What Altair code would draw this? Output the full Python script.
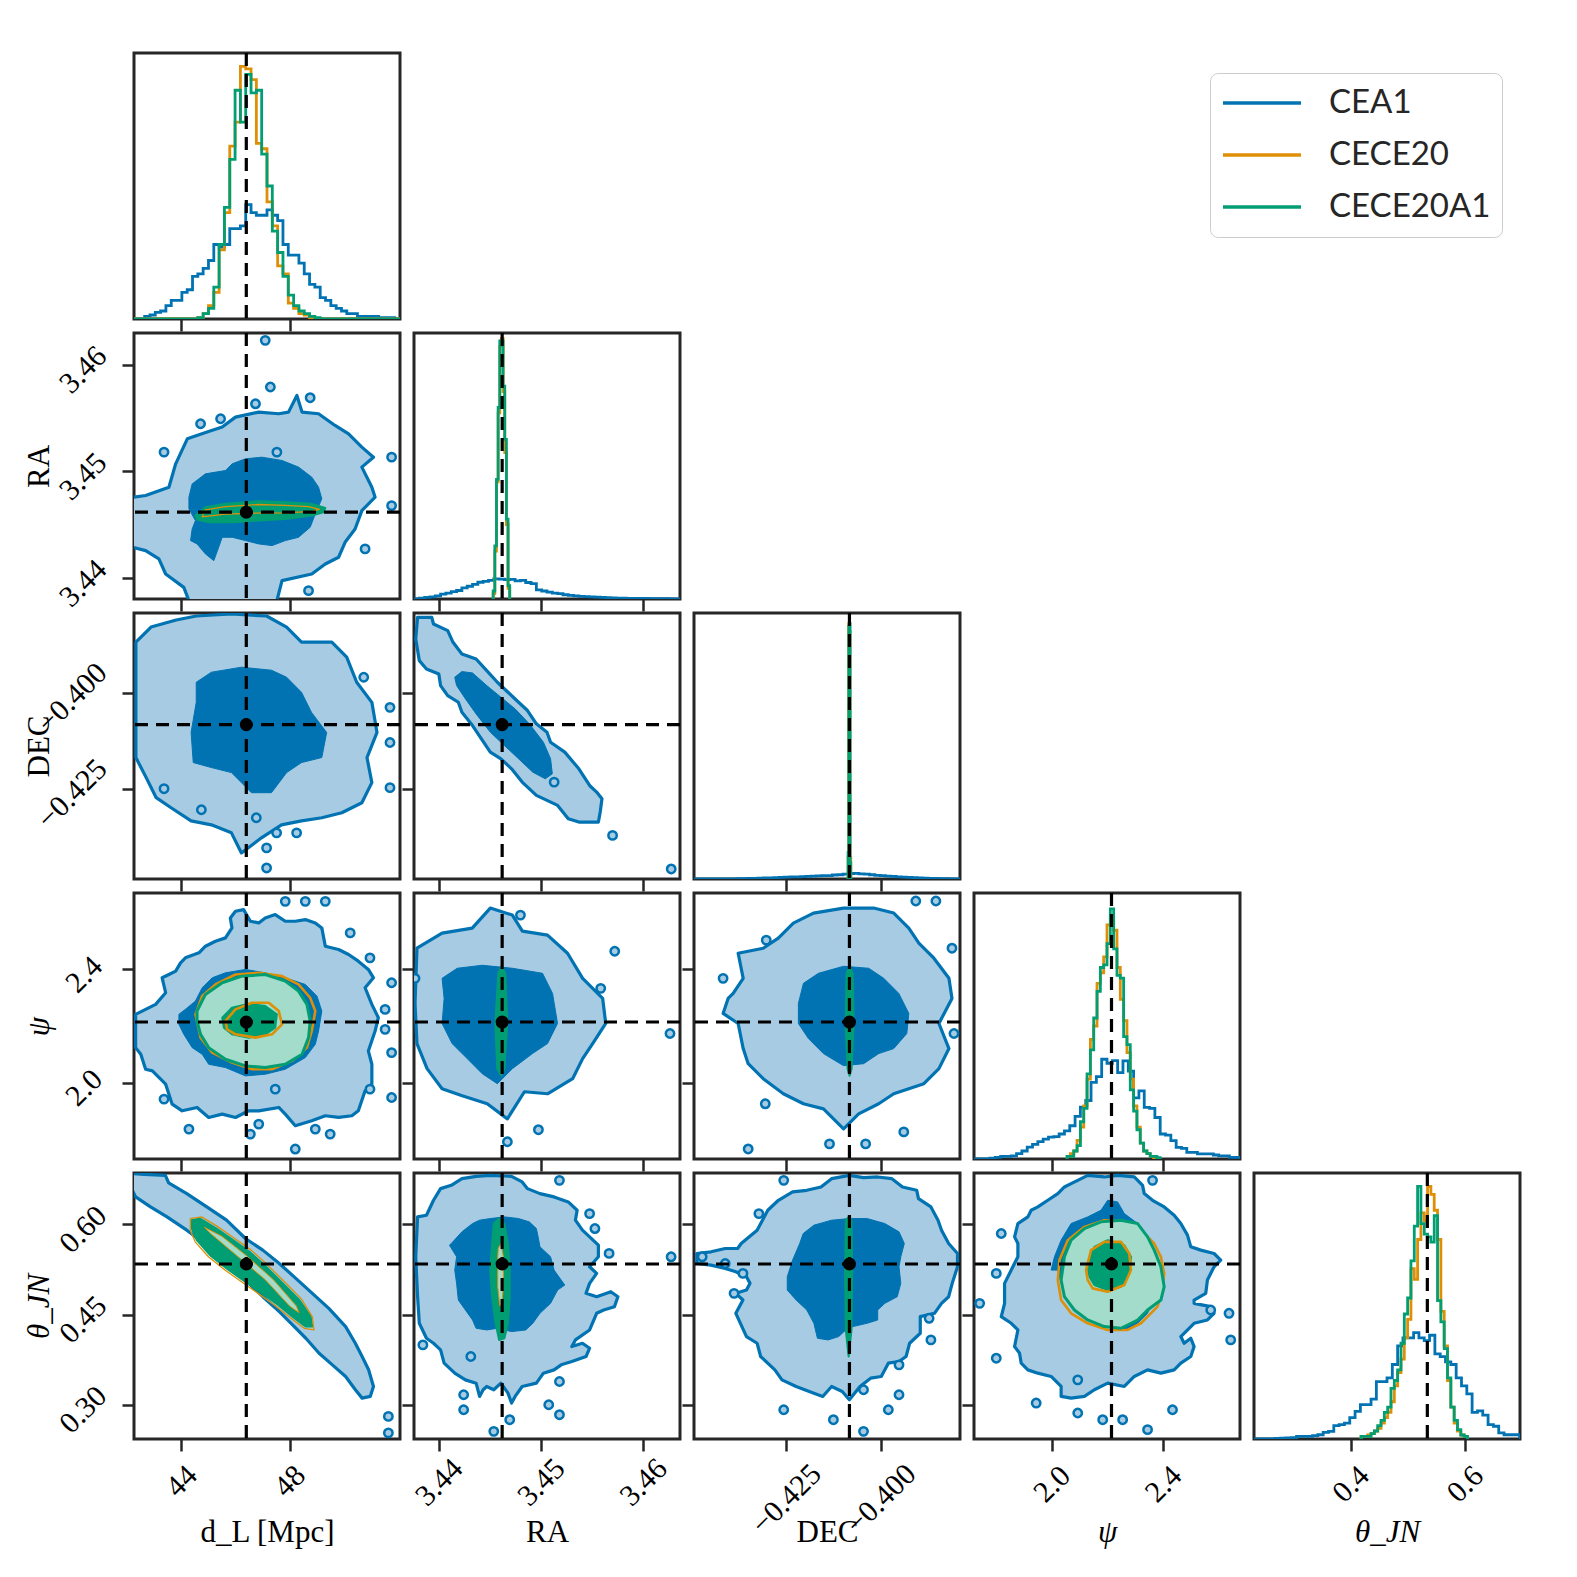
import altair as alt
import pandas as pd

# ---------------- colours / styling ----------------
BLUE = "#0173b2"
ORANGE = "#de8f05"
GREEN = "#029e73"
LIGHT_BLUE = "#a6cbe3"
LIGHT_GREEN = "#a3dccb"
FRAME = "#262626"
SERIF = "Liberation Serif"
PANEL = 266
GAP = 14

SERIES = ["CEA1", "CECE20", "CECE20A1"]
SERIES_COLORS = [BLUE, ORANGE, GREEN]

PARAMS = ["dL", "RA", "DEC", "psi", "theta"]
TITLES = {"dL": "d_L [Mpc]", "RA": "RA", "DEC": "DEC", "psi": "ψ", "theta": "θ_JN"}
TITLE_STYLE = {"dL": "normal", "RA": "normal", "DEC": "normal", "psi": "italic", "theta": "italic"}
TRUTH = {"dL": 46.4, "RA": 3.44618, "DEC": -0.4083, "psi": 2.214, "theta": 0.534}

COL_DOMAIN = {"dL": [42.25, 52.08], "RA": [3.43755, 3.46359], "DEC": [-0.44938, -0.37908],
              "psi": [1.7203, 2.6754], "theta": [0.2308, 0.6961]}
ROW_DOMAIN = {"RA": [3.43805, 3.46296], "DEC": [-0.44844, -0.37928],
              "psi": [1.7294, 2.6704], "theta": [0.2429, 0.6854]}
COL_TICKS = {"dL": [44, 48], "RA": [3.44, 3.45, 3.46], "DEC": [-0.425, -0.400],
             "psi": [2.0, 2.4], "theta": [0.4, 0.6]}
ROW_TICKS = {"RA": [3.44, 3.45, 3.46], "DEC": [-0.425, -0.400], "psi": [2.0, 2.4],
             "theta": [0.30, 0.45, 0.60]}
COL_FMT = {"dL": "d", "RA": ".2f", "DEC": ".3f", "psi": ".1f", "theta": ".1f"}
ROW_FMT = {"RA": ".2f", "DEC": ".3f", "psi": ".1f", "theta": ".2f"}
COL_PAD = {"dL": 30, "RA": 31, "DEC": 48, "psi": 33, "theta": 33}
ROW_PAD = {"RA": 39, "DEC": 50, "psi": 38, "theta": 39}

# ---------------- 1-D histograms (percent of panel height) ----------------
H_DL_CEA1 = [0, 0, 1, 1.5, 2.5, 3, 5, 7, 7, 10, 11, 16, 17, 19, 22, 28, 27, 28, 34, 34,
             35, 43, 40, 39, 39, 41, 39, 37, 28, 24, 24, 21, 17, 13, 12, 8, 7, 5, 4, 3,
             2, 2, 1, 1, 1, 1, 0.5, 0.5, 0.5, 0]
H_DL_CECE20 = [0, 0, 0, 0, 0, 0, 0, 0, 0, 0, 0, 0, 0.5, 2, 5, 10, 26, 40, 65, 74,
               95, 94, 90, 66, 64, 44, 35, 20, 17, 6, 4, 2, 1.5, 0.5, 0, 0, 0, 0, 0, 0,
               0, 0, 0, 0, 0, 0, 0, 0, 0, 0]
H_DL_CECE20A1 = [0, 0, 0, 0, 0, 0, 0, 0, 0, 0, 0, 0, 0.5, 2, 4, 12, 28, 42, 60, 86,
                 74, 92, 85, 86, 62, 50, 33, 25, 16, 9, 5, 3, 2, 1, 0.5, 0, 0, 0, 0, 0,
                 0, 0, 0, 0, 0, 0, 0, 0, 0, 0]
H_RA_CEA1 = [0, 0.3, 0.6, 0.8, 1.2, 1.8, 2.2, 2.8, 3.2, 4.2, 4.8, 5.5, 6.3, 6.6, 7.0, 7.6,
             7.5, 7.3, 7.4, 6.8, 7.0, 6.2, 5.8, 3.4, 3.0, 2.6, 2.2, 2.0, 1.6, 1.4, 1.2, 1.0,
             0.9, 0.8, 0.7, 0.6, 0.5, 0.4, 0.3, 0.3, 0.2, 0.2, 0.2, 0.2, 0.1, 0.1, 0.1, 0.1, 0, 0]
H_RA_CECE20 = [2, 18, 44, 70, 95, 98, 78, 55, 28, 4]
H_RA_CECE20A1 = [3, 20, 45, 72, 97, 97, 80, 60, 30, 5]
H_DEC_CEA1 = [0, 0, 0, 0, 0, 0, 0, 0, 0.1, 0.1, 0.2, 0.2, 0.3, 0.4, 0.4, 0.5, 0.6, 0.7, 0.8, 0.8,
              0.9, 1.0, 1.1, 1.2, 1.3, 1.3, 1.5, 1.6, 1.8, 2.0, 2.1, 1.9, 1.8, 1.6, 1.4, 1.3,
              1.1, 1.0, 0.8, 0.7, 0.6, 0.5, 0.4, 0.3, 0.2, 0.2, 0.1, 0.1, 0, 0]
H_DEC_CECE20 = [8, 96, 93, 8]
H_DEC_CECE20A1 = [10, 95, 96, 6]
H_PSI_CEA1 = [0, 0, 0, 0.3, 0.6, 1.0, 1.0, 1.2, 2, 3, 4.5, 5.5, 6.5, 7.5, 8.2, 8.4, 9.4, 10.6,
              12.5, 16, 19.5, 22, 28.8, 31, 37.5, 36, 37, 32.5, 36.9, 33, 23, 25.6, 19.4, 19,
              15.6, 9.4, 9, 6.9, 4.4, 4, 2.5, 2.5, 1.9, 1.9, 1.9, 1.5, 1.2, 1.2, 0.6, 0.6]
H_PSI_CECE20 = [1, 2, 3, 7, 12, 20, 30, 45, 50, 66, 70, 76, 88, 90, 86, 72, 60, 52, 40, 30,
                20, 12, 6, 3, 2, 1, 0.5, 0]
H_PSI_CECE20A1 = [1, 1, 3, 5, 14, 19, 32, 41, 53, 63, 72, 73, 81, 94, 79, 69, 68, 46, 43, 26,
                  18, 11, 6, 3, 2, 1, 1, 0.5]
H_TH_CEA1 = [0, 0, 0, 0, 0.2, 0.3, 0.4, 0.5, 1, 1, 1, 1.3, 1.6, 2.5, 2.9, 5, 5.4, 6, 8, 10.4,
             12.9, 12.9, 15, 21.6, 21.6, 23, 28, 35, 38, 38, 40, 38, 37, 39, 32, 31, 29, 28,
             23, 20, 17, 10, 10.6, 9, 5.4, 4.8, 2.3, 1.6, 1.6, 1.6]
H_TH_CECE20 = [1, 1, 1.5, 2, 3, 4, 6, 8, 10, 14, 20, 25, 30, 38, 45, 64, 60, 75, 85, 82,
               95, 92, 86, 75, 48, 35, 22, 12, 6, 3, 1.5, 1]
H_TH_CECE20A1 = [1, 1, 1, 2, 3, 5, 7, 10, 12, 19, 22, 26, 36, 47, 53, 67, 80, 95, 81, 77,
                 76, 74, 84, 52, 44, 34, 23, 12, 7, 3.5, 1.5, 1]

# (series, low edge, high edge, bin heights)
HISTS = {
    "dL": [("CEA1", 42.25, 52.08, H_DL_CEA1), ("CECE20", 42.25, 52.08, H_DL_CECE20),
           ("CECE20A1", 42.25, 52.08, H_DL_CECE20A1)],
    "RA": [("CEA1", 3.43755, 3.46359, H_RA_CEA1), ("CECE20", 3.44530, 3.44692, H_RA_CECE20),
           ("CECE20A1", 3.44530, 3.44692, H_RA_CECE20A1)],
    "DEC": [("CEA1", -0.44938, -0.37908, H_DEC_CEA1), ("CECE20", -0.40865, -0.40795, H_DEC_CECE20),
            ("CECE20A1", -0.40865, -0.40795, H_DEC_CECE20A1)],
    "psi": [("CEA1", 1.7203, 2.6754, H_PSI_CEA1), ("CECE20", 2.0546, 2.3889, H_PSI_CECE20),
            ("CECE20A1", 2.0546, 2.3889, H_PSI_CECE20A1)],
    "theta": [("CEA1", 0.2308, 0.6961, H_TH_CEA1), ("CECE20", 0.4181, 0.6042, H_TH_CECE20),
              ("CECE20A1", 0.4181, 0.6042, H_TH_CECE20A1)],
}

# ---------------- 2-D credible contours (vertices in data units) ----------------
RA_DL_OUTER = [(42.19, 3.44758), (42.68, 3.44774), (43.54, 3.44852), (43.79, 3.45071), (44.22, 3.45305),
               (44.95, 3.45368), (45.51, 3.45415), (46.00, 3.45508), (46.86, 3.45555), (47.60, 3.45540),
               (47.96, 3.45555), (48.27, 3.45711), (48.46, 3.45555), (49.07, 3.45540), (49.68, 3.45430),
               (50.18, 3.45352), (50.67, 3.45227), (51.10, 3.45133), (50.67, 3.45040), (51.04, 3.44852),
               (51.16, 3.44758), (50.67, 3.44633), (50.42, 3.44461), (50.05, 3.44336), (49.81, 3.44196),
               (49.32, 3.44133), (48.82, 3.44039), (47.72, 3.43977), (47.53, 3.43789), (44.28, 3.43789),
               (44.09, 3.43914), (43.42, 3.44039), (43.17, 3.44180), (42.68, 3.44258), (42.19, 3.44289)]
RA_DL_INNER = [(44.28, 3.44758), (44.40, 3.44883), (44.89, 3.44977), (45.63, 3.45008), (45.88, 3.45071),
               (46.37, 3.45118), (46.98, 3.45133), (47.72, 3.45102), (48.33, 3.45040), (48.82, 3.44946),
               (49.07, 3.44852), (49.19, 3.44743), (48.95, 3.44602), (48.76, 3.44477), (48.33, 3.44383),
               (47.84, 3.44352), (47.35, 3.44305), (46.86, 3.44321), (46.37, 3.44352), (45.88, 3.44383),
               (45.51, 3.44383), (45.20, 3.44164), (44.89, 3.44227), (44.58, 3.44321), (44.34, 3.44352),
               (44.40, 3.44461), (44.52, 3.44539), (44.28, 3.44649)]
RA_DL_GREEN = [(44.52, 3.44586), (44.89, 3.44664), (45.63, 3.44696), (46.86, 3.44721), (47.84, 3.44711),
               (48.82, 3.44696), (49.32, 3.44658), (49.25, 3.44618), (48.82, 3.44586), (47.84, 3.44555),
               (46.86, 3.44539), (45.88, 3.44524), (45.02, 3.44524), (44.58, 3.44549)]
RA_DL_ORANGE = [(44.77, 3.44575), (45.63, 3.44600), (46.86, 3.44610), (47.84, 3.44612), (48.82, 3.44625),
                (49.10, 3.44645), (48.70, 3.44670), (47.84, 3.44682), (46.86, 3.44690), (45.63, 3.44670),
                (44.89, 3.44640)]

DEC_DL_OUTER = [(42.32, -0.38685), (42.88, -0.38293), (43.81, -0.38111), (44.55, -0.38006), (45.85, -0.37954),
                (47.15, -0.38006), (47.89, -0.38293), (48.44, -0.38685), (49.56, -0.38685), (50.11, -0.39076),
                (50.48, -0.39729), (51.04, -0.40251), (51.23, -0.41034), (50.86, -0.41686), (51.04, -0.42339),
                (50.67, -0.42861), (49.93, -0.43122), (49.19, -0.43252), (48.44, -0.43331), (47.70, -0.43435),
                (46.96, -0.43774), (46.22, -0.44166), (45.85, -0.43644), (45.11, -0.43435), (44.36, -0.43331),
                (43.62, -0.42991), (43.07, -0.42730), (42.70, -0.42208), (42.32, -0.41686)]
DEC_DL_INNER = [(44.55, -0.39729), (45.11, -0.39468), (46.22, -0.39337), (47.33, -0.39416), (47.89, -0.39598),
                (48.44, -0.39990), (48.81, -0.40512), (49.37, -0.41034), (49.19, -0.41686), (48.44, -0.41817),
                (47.89, -0.42078), (47.33, -0.42600), (46.59, -0.42600), (45.85, -0.42078), (45.11, -0.41947),
                (44.44, -0.41817), (44.36, -0.41034), (44.55, -0.40251)]

DEC_RA_OUTER = [(3.43790, -0.38041), (3.43929, -0.38041), (3.43946, -0.38214), (3.44085, -0.38387),
                (3.44137, -0.38690), (3.44224, -0.38993), (3.44363, -0.39123), (3.44467, -0.39426),
                (3.44571, -0.39728), (3.44675, -0.39988), (3.44779, -0.40248), (3.44866, -0.40464),
                (3.44953, -0.40810), (3.45057, -0.41027), (3.45092, -0.41287), (3.45231, -0.41546),
                (3.45369, -0.41979), (3.45474, -0.42412), (3.45543, -0.42585), (3.45595, -0.42758),
                (3.45578, -0.43104), (3.45560, -0.43364), (3.45369, -0.43364), (3.45265, -0.43277),
                (3.45161, -0.42931), (3.45057, -0.42801), (3.44953, -0.42671), (3.44814, -0.42325),
                (3.44710, -0.41979), (3.44606, -0.41719), (3.44502, -0.41546), (3.44415, -0.41200),
                (3.44328, -0.40854), (3.44224, -0.40507), (3.44189, -0.40248), (3.44085, -0.40075),
                (3.44015, -0.39815), (3.43998, -0.39512), (3.43877, -0.39382), (3.43807, -0.39166),
                (3.43772, -0.38603)]
DEC_RA_INNER = [(3.44154, -0.39599), (3.44224, -0.39451), (3.44328, -0.39486), (3.44467, -0.39815),
                (3.44606, -0.40118), (3.44745, -0.40421), (3.44884, -0.40810), (3.45022, -0.41287),
                (3.45092, -0.41719), (3.45109, -0.42109), (3.45040, -0.42239), (3.44918, -0.42066),
                (3.44779, -0.41719), (3.44640, -0.41373), (3.44502, -0.41027), (3.44363, -0.40551),
                (3.44259, -0.40161), (3.44172, -0.39815)]

PSI_DL_OUTER = [(42.31, 2.2411), (42.68, 2.2588), (43.05, 2.2763), (43.42, 2.3175), (43.29, 2.3704),
                (43.54, 2.3822), (43.79, 2.3940), (43.97, 2.4234), (44.15, 2.4410), (44.65, 2.4587),
                (44.89, 2.4822), (45.26, 2.4998), (45.63, 2.5116), (45.87, 2.5469), (45.81, 2.5822),
                (46.00, 2.6057), (46.30, 2.6116), (46.55, 2.5704), (46.86, 2.5645), (47.10, 2.5822),
                (47.47, 2.5940), (47.84, 2.5704), (48.21, 2.5704), (48.58, 2.5763), (48.95, 2.5645),
                (49.19, 2.5469), (49.32, 2.4822), (49.81, 2.4704), (50.18, 2.4528), (50.54, 2.4293),
                (50.91, 2.3999), (51.10, 2.3704), (50.79, 2.3352), (51.04, 2.2763), (51.28, 2.2293),
                (51.16, 2.1822), (50.91, 2.1117), (51.04, 2.0646), (51.04, 1.9940), (50.79, 1.9705),
                (50.54, 1.8999), (50.30, 1.8823), (49.81, 1.8764), (49.32, 1.8823), (48.82, 1.8646),
                (48.21, 1.8470), (47.84, 1.8882), (47.60, 1.9117), (46.86, 1.8999), (46.49, 1.8999),
                (46.00, 1.8764), (45.51, 1.8882), (45.01, 1.8764), (44.58, 1.9117), (44.03, 1.8999),
                (43.66, 1.9234), (43.42, 1.9940), (42.93, 2.0411), (42.68, 2.0470), (42.50, 2.0999),
                (42.31, 2.1234)]
PSI_DL_INNER = [(43.91, 2.2411), (44.15, 2.2588), (44.52, 2.2881), (44.77, 2.3352), (45.14, 2.3704),
                (45.63, 2.3881), (46.37, 2.3999), (47.10, 2.3881), (47.84, 2.3704), (48.58, 2.3469),
                (49.01, 2.3058), (49.19, 2.2528), (49.07, 2.1822), (48.95, 2.1352), (48.58, 2.0881),
                (47.84, 2.0470), (47.10, 2.0293), (46.37, 2.0234), (45.63, 2.0529), (45.01, 2.0646),
                (44.77, 2.0999), (44.40, 2.1234), (44.09, 2.1705), (43.91, 2.2058)]
PSI_DL_GREEN_OUT = [(44.58, 2.2528), (44.89, 2.3116), (45.51, 2.3528), (46.24, 2.3763), (47.10, 2.3822),
                    (47.84, 2.3587), (48.33, 2.3234), (48.64, 2.2763), (48.76, 2.2175), (48.70, 2.1587),
                    (48.46, 2.0999), (47.84, 2.0646), (47.10, 2.0529), (46.37, 2.0587), (45.63, 2.0822),
                    (45.01, 2.1234), (44.71, 2.1705), (44.58, 2.2175)]
PSI_DL_GREEN_IN = [(45.51, 2.2293), (45.87, 2.2646), (46.49, 2.2787), (47.10, 2.2705), (47.53, 2.2411),
                   (47.47, 2.1940), (47.10, 2.1705), (46.49, 2.1587), (45.87, 2.1705), (45.57, 2.1940)]
PSI_DL_ORANGE_OUT = [(44.52, 2.2411), (44.77, 2.3058), (45.26, 2.3469), (46.00, 2.3822), (46.86, 2.3881),
                     (47.72, 2.3763), (48.33, 2.3469), (48.76, 2.2999), (48.95, 2.2528), (48.82, 2.1822),
                     (48.64, 2.1234), (48.09, 2.0764), (47.35, 2.0470), (46.61, 2.0470), (45.87, 2.0705),
                     (45.14, 2.1058), (44.71, 2.1587)]
PSI_DL_ORANGE_IN = [(45.63, 2.2175), (46.00, 2.2588), (46.61, 2.2822), (47.23, 2.2822), (47.60, 2.2528),
                    (47.72, 2.2058), (47.35, 2.1705), (46.74, 2.1587), (46.00, 2.1705), (45.69, 2.1881)]

PSI_RA_OUTER = [(3.43784, 2.4751), (3.44030, 2.5284), (3.44325, 2.5461), (3.44502, 2.6171), (3.44718, 2.5923),
                (3.44816, 2.5355), (3.45062, 2.5213), (3.45258, 2.4573), (3.45406, 2.3686), (3.45602, 2.2975),
                (3.45632, 2.2088), (3.45504, 2.1377), (3.45406, 2.0845), (3.45308, 2.0135), (3.45062, 1.9602),
                (3.44836, 1.9673), (3.44669, 1.8714), (3.44472, 1.9247), (3.44227, 1.9531), (3.44030, 1.9780),
                (3.43883, 2.0490), (3.43784, 2.1377), (3.43765, 2.2798)]
PSI_RA_INNER = [(3.44030, 2.3686), (3.44178, 2.4041), (3.44423, 2.4147), (3.44718, 2.4041), (3.45013, 2.3863),
                (3.45111, 2.3153), (3.45160, 2.2088), (3.45062, 2.1377), (3.44914, 2.1022), (3.44718, 2.0490),
                (3.44571, 1.9957), (3.44423, 2.0312), (3.44276, 2.0845), (3.44128, 2.1377), (3.44030, 2.2088),
                (3.44050, 2.2975)]
PSI_RA_GREEN = [(3.44580, 2.3863), (3.44610, 2.4112), (3.44649, 2.3863), (3.44669, 2.2088), (3.44639, 2.0490),
                (3.44610, 2.0241), (3.44570, 2.0490), (3.44551, 2.2088)]

PSI_DEC_OUTER = [(-0.43903, 2.3153), (-0.43638, 2.3686), (-0.43771, 2.4573), (-0.43108, 2.4751),
                 (-0.42710, 2.5106), (-0.42312, 2.5639), (-0.41781, 2.5994), (-0.40985, 2.6171),
                 (-0.40190, 2.6171), (-0.39659, 2.5994), (-0.39261, 2.5461), (-0.38996, 2.4929),
                 (-0.38598, 2.4396), (-0.38200, 2.3686), (-0.38120, 2.2975), (-0.38465, 2.2088),
                 (-0.38200, 2.1200), (-0.38465, 2.0490), (-0.38863, 1.9957), (-0.39261, 1.9780),
                 (-0.39659, 1.9602), (-0.40057, 1.9247), (-0.40587, 1.8892), (-0.40985, 1.8359),
                 (-0.41516, 1.9069), (-0.42046, 1.9247), (-0.42577, 1.9602), (-0.43108, 2.0135),
                 (-0.43506, 2.0667), (-0.43638, 2.1200), (-0.43771, 2.2088), (-0.44169, 2.2443),
                 (-0.44036, 2.2975)]
PSI_DEC_INNER = [(-0.42179, 2.2798), (-0.42046, 2.3508), (-0.41649, 2.3863), (-0.40985, 2.4112),
                 (-0.40322, 2.4041), (-0.39924, 2.3686), (-0.39526, 2.3153), (-0.39261, 2.2443),
                 (-0.39314, 2.1733), (-0.39659, 2.1200), (-0.40057, 2.1022), (-0.40455, 2.0667),
                 (-0.40985, 2.0596), (-0.41516, 2.1022), (-0.41914, 2.1555), (-0.42179, 2.2088)]
PSI_DEC_GREEN = [(-0.40906, 2.3863), (-0.40826, 2.4112), (-0.40747, 2.3863), (-0.40720, 2.2088),
                 (-0.40773, 2.0490), (-0.40826, 2.0241), (-0.40879, 2.0490), (-0.40932, 2.2088)]

TH_DL_OUTER = [(42.62, 0.6832), (43.41, 0.6815), (43.53, 0.6688), (44.20, 0.6511), (44.94, 0.6290),
               (45.67, 0.6069), (46.37, 0.5764), (47.01, 0.5571), (47.62, 0.5349), (48.23, 0.5101),
               (48.84, 0.4852), (49.45, 0.4603), (50.07, 0.4299), (50.43, 0.4022), (50.68, 0.3801),
               (50.92, 0.3580), (51.10, 0.3303), (50.98, 0.3137), (50.68, 0.3109), (50.43, 0.3248),
               (50.07, 0.3469), (49.58, 0.3662), (49.09, 0.3856), (48.60, 0.4105), (48.11, 0.4326),
               (47.62, 0.4547), (47.01, 0.4796), (46.37, 0.5073), (45.67, 0.5405), (44.94, 0.5654),
               (44.20, 0.5903), (43.47, 0.6124), (42.86, 0.6290), (42.31, 0.6456), (42.19, 0.6566),
               (42.19, 0.6843)]
TH_DL_GREEN = [(44.39, 0.6069), (44.69, 0.6096), (45.30, 0.5930), (45.91, 0.5737), (46.52, 0.5543),
               (47.13, 0.5294), (47.75, 0.5018), (48.36, 0.4741), (48.78, 0.4465), (48.84, 0.4299),
               (48.60, 0.4299), (48.11, 0.4465), (47.50, 0.4686), (46.89, 0.4879), (46.28, 0.5073),
               (45.67, 0.5266), (45.06, 0.5488), (44.57, 0.5737), (44.39, 0.5930)]
TH_DL_LIGHT = [(44.85, 0.5950), (45.50, 0.5800), (46.40, 0.5480), (47.40, 0.5080), (48.25, 0.4640),
               (48.35, 0.4530), (48.00, 0.4640), (47.10, 0.5080), (46.10, 0.5460), (45.10, 0.5840)]
TH_DL_ORANGE = [(44.33, 0.6096), (44.75, 0.6124), (45.36, 0.5958), (45.97, 0.5764), (46.58, 0.5571),
                (47.19, 0.5322), (47.81, 0.5046), (48.42, 0.4769), (48.84, 0.4465), (48.90, 0.4243),
                (48.54, 0.4271), (48.05, 0.4437), (47.44, 0.4658), (46.83, 0.4852), (46.22, 0.5046),
                (45.61, 0.5239), (45.00, 0.5460), (44.51, 0.5709), (44.33, 0.5903)]

TH_RA_OUTER = [(3.43790, 0.6124), (3.43877, 0.6152), (3.43946, 0.6400), (3.44015, 0.6594), (3.44120, 0.6649),
               (3.44224, 0.6760), (3.44363, 0.6799), (3.44501, 0.6815), (3.44710, 0.6799), (3.44814, 0.6705),
               (3.44866, 0.6594), (3.44988, 0.6511), (3.45126, 0.6456), (3.45265, 0.6373), (3.45352, 0.6235),
               (3.45335, 0.6069), (3.45404, 0.5903), (3.45474, 0.5792), (3.45560, 0.5654), (3.45560, 0.5460),
               (3.45474, 0.5294), (3.45543, 0.5184), (3.45474, 0.5018), (3.45439, 0.4852), (3.45543, 0.4796),
               (3.45682, 0.4879), (3.45751, 0.4796), (3.45717, 0.4630), (3.45612, 0.4575), (3.45543, 0.4520),
               (3.45474, 0.4243), (3.45335, 0.4077), (3.45300, 0.3967), (3.45404, 0.4022), (3.45474, 0.3939),
               (3.45439, 0.3801), (3.45300, 0.3718), (3.45196, 0.3663), (3.45126, 0.3579), (3.45022, 0.3524),
               (3.44953, 0.3358), (3.44814, 0.3303), (3.44745, 0.3137), (3.44710, 0.3027), (3.44675, 0.3192),
               (3.44606, 0.3358), (3.44536, 0.3248), (3.44467, 0.3303), (3.44432, 0.3248), (3.44397, 0.3137),
               (3.44363, 0.3358), (3.44258, 0.3413), (3.44154, 0.3524), (3.44050, 0.3690), (3.44015, 0.3911),
               (3.43946, 0.4022), (3.43877, 0.4105), (3.43807, 0.4354), (3.43790, 0.4796), (3.43772, 0.5460)]
TH_RA_INNER = [(3.44120, 0.5681), (3.44224, 0.5875), (3.44328, 0.6013), (3.44397, 0.6069), (3.44501, 0.6096),
               (3.44640, 0.6124), (3.44779, 0.6096), (3.44883, 0.6041), (3.44953, 0.5930), (3.44970, 0.5792),
               (3.44988, 0.5626), (3.45092, 0.5460), (3.45126, 0.5239), (3.45196, 0.5073), (3.45231, 0.4990),
               (3.45161, 0.4907), (3.45092, 0.4686), (3.44988, 0.4520), (3.44918, 0.4354), (3.44849, 0.4243),
               (3.44710, 0.4216), (3.44571, 0.4271), (3.44467, 0.4243), (3.44363, 0.4271), (3.44328, 0.4409),
               (3.44258, 0.4575), (3.44189, 0.4741), (3.44172, 0.5018), (3.44154, 0.5239), (3.44172, 0.5460),
               (3.44102, 0.5654)]
TH_RA_GREEN = [(3.44536, 0.6013), (3.44588, 0.6096), (3.44640, 0.6013), (3.44675, 0.5681), (3.44692, 0.5239),
               (3.44692, 0.4796), (3.44675, 0.4354), (3.44640, 0.4105), (3.44588, 0.4077), (3.44554, 0.4354),
               (3.44519, 0.4796), (3.44501, 0.5239), (3.44519, 0.5681)]
TH_RA_LIGHT = [(3.44580, 0.5600), (3.44606, 0.5680), (3.44630, 0.5460), (3.44630, 0.4962), (3.44615, 0.4680),
               (3.44595, 0.4640), (3.44575, 0.4962), (3.44575, 0.5460)]

TH_DEC_OUTER = [(-0.44863, 0.5515), (-0.44488, 0.5543), (-0.44113, 0.5598), (-0.43785, 0.5598),
                (-0.43691, 0.5681), (-0.43270, 0.5903), (-0.42988, 0.6235), (-0.42707, 0.6400),
                (-0.42332, 0.6539), (-0.41957, 0.6566), (-0.41582, 0.6622), (-0.41301, 0.6760),
                (-0.40832, 0.6815), (-0.40458, 0.6777), (-0.40083, 0.6788), (-0.39708, 0.6760),
                (-0.39427, 0.6622), (-0.39052, 0.6566), (-0.39005, 0.6428), (-0.38677, 0.6290),
                (-0.38489, 0.6069), (-0.38396, 0.5903), (-0.38208, 0.5681), (-0.37974, 0.5515),
                (-0.37974, 0.5294), (-0.38114, 0.5018), (-0.38208, 0.4796), (-0.38396, 0.4686),
                (-0.38583, 0.4520), (-0.38958, 0.4465), (-0.38958, 0.4188), (-0.39239, 0.4022),
                (-0.39333, 0.3801), (-0.39520, 0.3718), (-0.39802, 0.3690), (-0.39989, 0.3469),
                (-0.40270, 0.3441), (-0.40551, 0.3303), (-0.40832, 0.3082), (-0.41020, 0.3220),
                (-0.41301, 0.3303), (-0.41536, 0.3137), (-0.41770, 0.3192), (-0.42239, 0.3303),
                (-0.42613, 0.3413), (-0.42801, 0.3579), (-0.43176, 0.3801), (-0.43270, 0.4022),
                (-0.43551, 0.4133), (-0.43832, 0.4520), (-0.43645, 0.4741), (-0.43832, 0.4852),
                (-0.43551, 0.4907), (-0.43457, 0.5018), (-0.43551, 0.5128), (-0.43832, 0.5211),
                (-0.44113, 0.5266), (-0.44488, 0.5322), (-0.44863, 0.5349)]
TH_DEC_INNER = [(-0.42473, 0.5128), (-0.42332, 0.5405), (-0.42145, 0.5681), (-0.42051, 0.5847),
                (-0.41770, 0.5986), (-0.41301, 0.6069), (-0.40832, 0.6096), (-0.40364, 0.6096),
                (-0.39895, 0.6013), (-0.39520, 0.5875), (-0.39380, 0.5681), (-0.39473, 0.5460),
                (-0.39520, 0.5294), (-0.39473, 0.5018), (-0.39567, 0.4796), (-0.39895, 0.4686),
                (-0.40083, 0.4575), (-0.40083, 0.4409), (-0.40364, 0.4354), (-0.40739, 0.4299),
                (-0.40926, 0.4243), (-0.41114, 0.4133), (-0.41395, 0.4077), (-0.41676, 0.4105),
                (-0.41770, 0.4354), (-0.41957, 0.4575), (-0.42239, 0.4741), (-0.42473, 0.4907)]
TH_DEC_GREEN = [(-0.40926, 0.6069), (-0.40851, 0.6124), (-0.40776, 0.6069), (-0.40757, 0.5184),
                (-0.40776, 0.4243), (-0.40851, 0.3801), (-0.40926, 0.4243), (-0.40945, 0.5184)]

TH_PSI_OUTER = [(2.0928, 0.6732), (2.1286, 0.6815), (2.1883, 0.6788), (2.2361, 0.6815), (2.2958, 0.6788),
                (2.3256, 0.6649), (2.3316, 0.6511), (2.3614, 0.6400), (2.4032, 0.6290), (2.4390, 0.6152),
                (2.4629, 0.6013), (2.4868, 0.5820), (2.4987, 0.5626), (2.5345, 0.5571), (2.5823, 0.5515),
                (2.6062, 0.5405), (2.5823, 0.5294), (2.5584, 0.5073), (2.5524, 0.4852), (2.5106, 0.4741),
                (2.5106, 0.4686), (2.5703, 0.4630), (2.5823, 0.4520), (2.5584, 0.4409), (2.5106, 0.4354),
                (2.4629, 0.4133), (2.4748, 0.4022), (2.4987, 0.4105), (2.5106, 0.3967), (2.4987, 0.3801),
                (2.4629, 0.3690), (2.4390, 0.3579), (2.3913, 0.3524), (2.3435, 0.3579), (2.2958, 0.3469),
                (2.2600, 0.3303), (2.2003, 0.3358), (2.1525, 0.3248), (2.1167, 0.3137), (2.0689, 0.3109),
                (2.0331, 0.3137), (2.0331, 0.3303), (1.9973, 0.3469), (1.9495, 0.3524), (1.9137, 0.3579),
                (1.8898, 0.3690), (1.8839, 0.3856), (1.8660, 0.3967), (1.8779, 0.4243), (1.8540, 0.4354),
                (1.8182, 0.4465), (1.8301, 0.4686), (1.8301, 0.5018), (1.8540, 0.5239), (1.8779, 0.5460),
                (1.8779, 0.5681), (1.8660, 0.5792), (1.8779, 0.6013), (1.9137, 0.6124), (1.9256, 0.6235),
                (1.9495, 0.6290), (1.9853, 0.6400), (2.0212, 0.6511), (2.0450, 0.6622), (2.0689, 0.6677)]
TH_PSI_INNER = [(2.0331, 0.5737), (2.0689, 0.6013), (2.1286, 0.6124), (2.1764, 0.6235), (2.2003, 0.6400),
                (2.2361, 0.6373), (2.2600, 0.6179), (2.3077, 0.6013), (2.3435, 0.5792), (2.3674, 0.5571),
                (2.3793, 0.5349), (2.3793, 0.5018), (2.3614, 0.4741), (2.3435, 0.4520), (2.2958, 0.4299),
                (2.2480, 0.4243), (2.2003, 0.4299), (2.1525, 0.4354), (2.1047, 0.4520), (2.0570, 0.4796),
                (2.0331, 0.5018), (2.0212, 0.5239), (1.9973, 0.5239), (2.0092, 0.5460)]
TH_PSI_GREEN_OUT = [(2.0450, 0.5460), (2.0689, 0.5737), (2.1167, 0.5930), (2.1764, 0.6041), (2.2480, 0.6069),
                    (2.3077, 0.6013), (2.3435, 0.5792), (2.3674, 0.5571), (2.3913, 0.5294), (2.4032, 0.4962),
                    (2.3913, 0.4741), (2.3435, 0.4575), (2.3077, 0.4409), (2.2480, 0.4271), (2.1883, 0.4299),
                    (2.1286, 0.4409), (2.0808, 0.4575), (2.0450, 0.4796), (2.0331, 0.5073)]
TH_PSI_GREEN_IN = [(2.1286, 0.5294), (2.1525, 0.5626), (2.2003, 0.5737), (2.2600, 0.5654), (2.2839, 0.5460),
                   (2.2779, 0.5184), (2.2480, 0.4962), (2.2003, 0.4907), (2.1525, 0.4990), (2.1346, 0.5128)]
TH_PSI_ORANGE_OUT = [(2.0271, 0.5405), (2.0570, 0.5737), (2.1167, 0.5958), (2.1883, 0.6069), (2.2600, 0.6041),
                     (2.3197, 0.5903), (2.3674, 0.5681), (2.3913, 0.5460), (2.4032, 0.5184), (2.3972, 0.4907),
                     (2.3793, 0.4630), (2.3197, 0.4354), (2.2719, 0.4243), (2.2003, 0.4243), (2.1286, 0.4354),
                     (2.0689, 0.4520), (2.0331, 0.4741), (2.0212, 0.5073)]
TH_PSI_ORANGE_IN = [(2.1226, 0.5239), (2.1405, 0.5571), (2.1883, 0.5709), (2.2480, 0.5709), (2.2779, 0.5515),
                    (2.2839, 0.5239), (2.2600, 0.4990), (2.2003, 0.4879), (2.1465, 0.4935), (2.1286, 0.5073)]

# small isolated 2-sigma islands of CEA1
ISL_RA_DL = [(47.10, 3.46227), (47.29, 3.45790), (46.74, 3.45633), (45.45, 3.45493), (44.71, 3.45446),
             (43.36, 3.45180), (47.53, 3.45180), (48.76, 3.45690), (51.77, 3.45133), (51.77, 3.44680),
             (50.79, 3.44274), (48.70, 3.43883)]
ISL_DEC_DL = [(43.36, -0.42496), (44.74, -0.43044), (46.77, -0.43252), (47.52, -0.43644), (48.26, -0.43644),
              (47.15, -0.44035), (47.15, -0.44557), (50.74, -0.39598), (51.71, -0.40381), (51.71, -0.41295),
              (51.71, -0.42469)]
ISL_DEC_RA = [(3.45127, -0.42325), (3.45699, -0.43710), (3.46273, -0.44583)]
ISL_PSI_DL = [(47.84, 2.6410), (48.58, 2.6410), (49.32, 2.6410), (50.24, 2.5293), (50.97, 2.4410),
              (51.77, 2.3528), (51.53, 2.2587), (51.53, 2.1881), (51.77, 2.1058), (50.97, 1.9764),
              (51.77, 1.9470), (47.47, 1.9764), (43.36, 1.9411), (44.28, 1.8352), (46.86, 1.8529),
              (48.95, 1.8352), (49.50, 1.8176), (48.21, 1.7646), (46.55, 1.8176)]
ISL_PSI_RA = [(3.44797, 2.5923), (3.45720, 2.4644), (3.45583, 2.3331), (3.43765, 2.3686), (3.44669, 1.7904),
              (3.44973, 1.8330), (3.46261, 2.1733)]
ISL_PSI_DEC = [(-0.44169, 2.3686), (-0.43028, 2.5035), (-0.43054, 1.9247), (-0.43506, 1.7649),
               (-0.41357, 1.7827), (-0.40402, 1.7827), (-0.39394, 1.8253), (-0.39076, 2.6420),
               (-0.38545, 2.6420), (-0.38120, 2.4751), (-0.38067, 2.1733)]
ISL_TH_DL = [(51.65, 0.2805), (51.65, 0.2530)]
ISL_TH_RA = [(3.45179, 0.6732), (3.45474, 0.6179), (3.45526, 0.5930), (3.45665, 0.5516), (3.46272, 0.5460),
             (3.43842, 0.3994), (3.44311, 0.3801), (3.45179, 0.3386), (3.44241, 0.3165), (3.44241, 0.2916),
             (3.45074, 0.2999), (3.45179, 0.2833), (3.44536, 0.2556), (3.44692, 0.2750)]
ISL_TH_DEC = [(-0.44722, 0.5460), (-0.44113, 0.5349), (-0.43645, 0.5184), (-0.43879, 0.4852),
              (-0.43223, 0.6179), (-0.42567, 0.6732), (-0.38724, 0.4437), (-0.38677, 0.4077),
              (-0.39520, 0.3663), (-0.39520, 0.3165), (-0.39802, 0.2916), (-0.40458, 0.3248),
              (-0.41254, 0.2750), (-0.42567, 0.2916), (-0.40458, 0.2556)]
ISL_TH_PSI = [(2.3614, 0.6732), (1.8182, 0.5848), (1.8003, 0.5184), (1.7406, 0.4686), (1.8003, 0.3773),
              (2.5703, 0.4575), (2.6360, 0.4520), (2.6420, 0.4077), (1.9436, 0.3027), (2.0928, 0.2861),
              (2.1824, 0.2750), (2.2540, 0.2750), (2.4331, 0.2916), (2.3435, 0.2584), (2.0928, 0.3413)]

CONTOURS = {
    ("RA", "dL"): [("blue_outer", RA_DL_OUTER), ("blue_inner", RA_DL_INNER), ("green_inner", RA_DL_GREEN),
                   ("orange_thin", RA_DL_ORANGE)],
    ("DEC", "dL"): [("blue_outer", DEC_DL_OUTER), ("blue_inner", DEC_DL_INNER)],
    ("DEC", "RA"): [("blue_outer", DEC_RA_OUTER), ("blue_inner", DEC_RA_INNER)],
    ("psi", "dL"): [("blue_outer", PSI_DL_OUTER), ("blue_inner", PSI_DL_INNER), ("orange_line", PSI_DL_ORANGE_OUT),
                    ("green_outer", PSI_DL_GREEN_OUT), ("green_inner", PSI_DL_GREEN_IN),
                    ("orange_line2", PSI_DL_ORANGE_IN)],
    ("psi", "RA"): [("blue_outer", PSI_RA_OUTER), ("blue_inner", PSI_RA_INNER), ("green_inner", PSI_RA_GREEN)],
    ("psi", "DEC"): [("blue_outer", PSI_DEC_OUTER), ("blue_inner", PSI_DEC_INNER), ("green_inner", PSI_DEC_GREEN)],
    ("theta", "dL"): [("blue_outer", TH_DL_OUTER), ("green_inner", TH_DL_GREEN), ("green_light", TH_DL_LIGHT),
                      ("orange_thin", TH_DL_ORANGE)],
    ("theta", "RA"): [("blue_outer", TH_RA_OUTER), ("blue_inner", TH_RA_INNER), ("green_inner", TH_RA_GREEN),
                      ("green_light", TH_RA_LIGHT)],
    ("theta", "DEC"): [("blue_outer", TH_DEC_OUTER), ("blue_inner", TH_DEC_INNER), ("green_inner", TH_DEC_GREEN)],
    ("theta", "psi"): [("blue_outer", TH_PSI_OUTER), ("blue_inner", TH_PSI_INNER), ("orange_line", TH_PSI_ORANGE_OUT),
                       ("green_outer", TH_PSI_GREEN_OUT), ("green_inner", TH_PSI_GREEN_IN),
                       ("orange_line2", TH_PSI_ORANGE_IN)],
}
ISLANDS = {("RA", "dL"): ISL_RA_DL, ("DEC", "dL"): ISL_DEC_DL, ("DEC", "RA"): ISL_DEC_RA,
           ("psi", "dL"): ISL_PSI_DL, ("psi", "RA"): ISL_PSI_RA, ("psi", "DEC"): ISL_PSI_DEC,
           ("theta", "dL"): ISL_TH_DL, ("theta", "RA"): ISL_TH_RA, ("theta", "DEC"): ISL_TH_DEC,
           ("theta", "psi"): ISL_TH_PSI}

STYLES = {
    "blue_outer": dict(fill=LIGHT_BLUE, stroke=BLUE, strokeWidth=3.2),
    "blue_inner": dict(fill=BLUE, stroke=BLUE, strokeWidth=1),
    "orange_line": dict(stroke=ORANGE, strokeWidth=2.6),
    "green_outer": dict(fill=LIGHT_GREEN, stroke=GREEN, strokeWidth=3),
    "green_inner": dict(fill=GREEN, stroke=GREEN, strokeWidth=2),
    "green_light": dict(fill=LIGHT_GREEN, stroke=ORANGE, strokeWidth=1),
    "orange_thin": dict(stroke=ORANGE, strokeWidth=1.3),
    "orange_line2": dict(stroke=ORANGE, strokeWidth=2.6),
}

COLOR_SCALE = alt.Scale(domain=SERIES, range=SERIES_COLORS)
LEGEND = alt.Legend(title=None, orient="none", legendX=1076, legendY=20, symbolType="stroke",
                    symbolSize=6084, symbolStrokeWidth=3.5, labelFont="Lato", labelFontSize=33,
                    labelColor="#262626", labelOffset=26, rowPadding=14, padding=11, clipHeight=38,
                    strokeColor="#cccccc", fillColor="white", cornerRadius=8, labelLimit=400)
FRAME_VIEW = alt.ViewBackground(stroke=FRAME, strokeWidth=3)


def x_axis(p, show):
    kw = dict(values=COL_TICKS[p], format=COL_FMT[p], labels=show, labelPadding=COL_PAD[p])
    if show:
        kw.update(title=TITLES[p], titleX=PANEL / 2, titleY=93, titleAlign="center",
                  titleBaseline="middle", titleAngle=0, titleFontStyle=TITLE_STYLE[p])
    else:
        kw.update(title=None)
    return alt.Axis(**kw)


def y_axis(p, show):
    kw = dict(values=ROW_TICKS[p], format=ROW_FMT[p], labels=show, labelPadding=ROW_PAD[p], labelOffset=5)
    if show:
        kw.update(title=TITLES[p], titleX=-95, titleY=PANEL / 2, titleAlign="center",
                  titleBaseline="middle", titleAngle=-90, titleFontStyle=TITLE_STYLE[p])
    else:
        kw.update(title=None)
    return alt.Axis(**kw)


def xs(field, dom, axis):
    return alt.X(field, type="quantitative", scale=alt.Scale(domain=dom, nice=False, zero=False), axis=axis)


def ys(field, dom, axis):
    return alt.Y(field, type="quantitative", scale=alt.Scale(domain=dom, nice=False, zero=False), axis=axis)


def pair_panel(rp, cp, left, bottom):
    xdom, ydom = COL_DOMAIN[cp], ROW_DOMAIN[rp]
    xa, ya = x_axis(cp, bottom), y_axis(rp, left)
    layers = []
    order = ["blue_outer", "islands", "blue_inner", "orange_line", "green_outer", "green_inner",
             "green_light", "orange_thin", "orange_line2"]
    items = CONTOURS[(rp, cp)]
    for st in order:
        if st == "islands":
            pts = ISLANDS[(rp, cp)]
            df = pd.DataFrame({"x": [a for a, b in pts], "y": [b for a, b in pts]})
            layers.append(alt.Chart(df).mark_point(shape="circle", filled=True, size=70, fill=LIGHT_BLUE,
                                                   stroke=BLUE, strokeWidth=2.5, opacity=1, clip=True)
                          .encode(x=xs("x", xdom, xa), y=ys("y", ydom, ya)))
            continue
        polys = [pts for s, pts in items if s == st]
        if not polys:
            continue
        rows = []
        for j, pts in enumerate(polys):
            for k, (a, b) in enumerate(pts):
                rows.append({"pid": j, "k": k, "x": a, "y": b})
        layers.append(alt.Chart(pd.DataFrame(rows)).mark_line(interpolate="linear-closed", clip=True,
                                                               strokeJoin="round", **STYLES[st])
                      .encode(x=xs("x", xdom, xa), y=ys("y", ydom, ya), detail="pid:N", order="k:Q"))
    tdf = pd.DataFrame({"x": [TRUTH[cp]], "y": [TRUTH[rp]]})
    layers.append(alt.Chart(tdf).mark_rule(color="black", strokeWidth=3.2, strokeDash=[13, 8])
                  .encode(x=xs("x", xdom, xa)))
    layers.append(alt.Chart(tdf).mark_rule(color="black", strokeWidth=3.2, strokeDash=[13, 8])
                  .encode(y=ys("y", ydom, ya)))
    layers.append(alt.Chart(tdf).mark_circle(color="black", size=170, opacity=1)
                  .encode(x=xs("x", xdom, xa), y=ys("y", ydom, ya)))
    return alt.layer(*layers).properties(width=PANEL, height=PANEL, view=FRAME_VIEW)


def hist_panel(p, bottom, with_legend):
    xdom = COL_DOMAIN[p]
    xa = x_axis(p, bottom)
    layers = []
    for s, lo, hi, h in HISTS[p]:
        n = len(h)
        w = (hi - lo) / n
        xsv = [lo] + [lo + i * w for i in range(n)] + [hi]
        ysv = [0] + list(h) + [0]
        df = pd.DataFrame({"x": xsv, "y": ysv, "k": list(range(len(xsv))), "series": s})
        layers.append(alt.Chart(df).mark_line(interpolate="step-after", strokeWidth=2.8, clip=True)
                      .encode(x=xs("x", xdom, xa), y=ys("y", [0, 100], None), order="k:Q",
                              color=alt.Color("series:N", scale=COLOR_SCALE,
                                              legend=LEGEND if with_legend else None)))
    tdf = pd.DataFrame({"x": [TRUTH[p]]})
    layers.append(alt.Chart(tdf).mark_rule(color="black", strokeWidth=3.2, strokeDash=[13, 8])
                  .encode(x=xs("x", xdom, xa)))
    return alt.layer(*layers).properties(width=PANEL, height=PANEL, view=FRAME_VIEW)


def blank_panel():
    df = pd.DataFrame({"x": [0.0]})
    return (alt.Chart(df).mark_point(opacity=0)
            .encode(x=alt.X("x:Q", axis=None), y=alt.Y("x:Q", axis=None))
            .properties(width=PANEL, height=PANEL, view=alt.ViewBackground(stroke="transparent")))


cells = []
for r, rp in enumerate(PARAMS):
    for c, cp in enumerate(PARAMS):
        last = (r == len(PARAMS) - 1)
        if c > r:
            cells.append(blank_panel())
        elif r == c:
            cells.append(hist_panel(rp, last, r == 0))
        else:
            cells.append(pair_panel(rp, cp, c == 0, last))

chart = (alt.concat(*cells, columns=5, spacing=GAP, bounds="flush")
         .properties(padding={"left": 13, "top": 41, "right": 20, "bottom": 5})
         .configure_view(stroke=None)
         .configure_axis(labelFont=SERIF, labelFontSize=30, titleFont=SERIF, titleFontSize=31,
                         titleFontWeight="normal", labelColor="black", titleColor="black",
                         tickColor=FRAME, tickWidth=2.5, tickSize=12, domain=False, grid=False,
                         labelAngle=-45, labelAlign="center", labelBaseline="middle",
                         labelOverlap=False, labelFlush=False))

chart.save("out.html", embed_options={"renderer": "svg", "actions": False})
